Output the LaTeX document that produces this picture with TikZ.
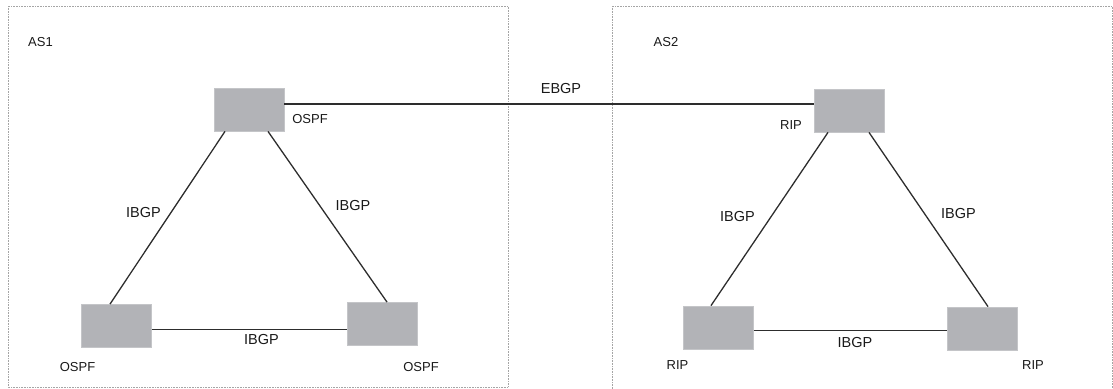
\documentclass[tikz,border=0pt]{standalone}
\usepackage{fontspec}
\setmainfont{Liberation Sans}
\usetikzlibrary{calc}

\definecolor{boxgray}{RGB}{178,179,183}
\definecolor{boxedge}{RGB}{196,197,200}
\definecolor{linegray}{RGB}{45,45,45}
\definecolor{framegray}{RGB}{165,165,165}
\definecolor{labelgray}{RGB}{25,25,25}

\begin{document}
\begin{tikzpicture}[x=1pt,y=-1pt,
  router/.style={fill=boxgray, draw=boxedge, line width=0.8pt, minimum width=70pt, minimum height=43pt, inner sep=0},
  link/.style={draw=linegray, line width=1.3pt},
  proto/.style={font=\fontsize{13}{15}\selectfont, text=labelgray, inner sep=0},
  bgp/.style={font=\fontsize{14.5}{16}\selectfont, text=labelgray, inner sep=0},
  asframe/.style={draw=framegray, densely dotted, line width=0.6pt}]
\useasboundingbox (0,0) rectangle (1113,388);

% the two autonomous systems
\draw[asframe] (8,6) rectangle (508,387);
\draw[asframe] (612,6) rectangle (1112,395);
\node[proto] (as1) at (40.5,42) {AS1};
\node[proto] (as2) at (666,42) {AS2};

% routers
\node[router] (r1) at (249,109.5) {};
\node[router] (r2) at (116.5,326) {};
\node[router] (r3) at (382.5,324) {};
\node[router] (r4) at (849.5,110.5) {};
\node[router] (r5) at (718.5,327.5) {};
\node[router] (r6) at (982.5,328.5) {};

% sessions
\draw[link] (r1.9) -- (r1.9 -| r4.west);
\draw[link] ($(r1.south)+(-24,0)$) -- ($(r2.north)+(-6.5,0)$);
\draw[link] ($(r1.south)+(19,0)$) -- ($(r3.north)+(4.5,0)$);
\draw[link] (r2.-6) -- (r2.-6 -| r3.west);
\draw[link] ($(r4.south)+(-21.5,0)$) -- ($(r5.north)+(-7.5,0)$);
\draw[link] ($(r4.south)+(19.5,0)$) -- ($(r6.north)+(5.5,0)$);
\draw[link] (r5.-5) -- (r5.-5 -| r6.west);

% labels
\node[bgp] (ebgp) at (561,89) {EBGP};
\node[bgp] (ibgp1) at (143.5,213) {IBGP};
\node[bgp] (ibgp2) at (353,206) {IBGP};
\node[bgp] (ibgp3) at (261.5,340) {IBGP};
\node[bgp] (ibgp4) at (737.5,217) {IBGP};
\node[bgp] (ibgp5) at (958.5,214) {IBGP};
\node[bgp] (ibgp6) at (855,343) {IBGP};
\node[proto] (p1) at (310,119) {OSPF};
\node[proto] (p2) at (77.5,367) {OSPF};
\node[proto] (p3) at (421,367) {OSPF};
\node[proto] (p4) at (791,125) {RIP};
\node[proto] (p5) at (677.5,365) {RIP};
\node[proto] (p6) at (1033,365) {RIP};
\end{tikzpicture}
\end{document}
